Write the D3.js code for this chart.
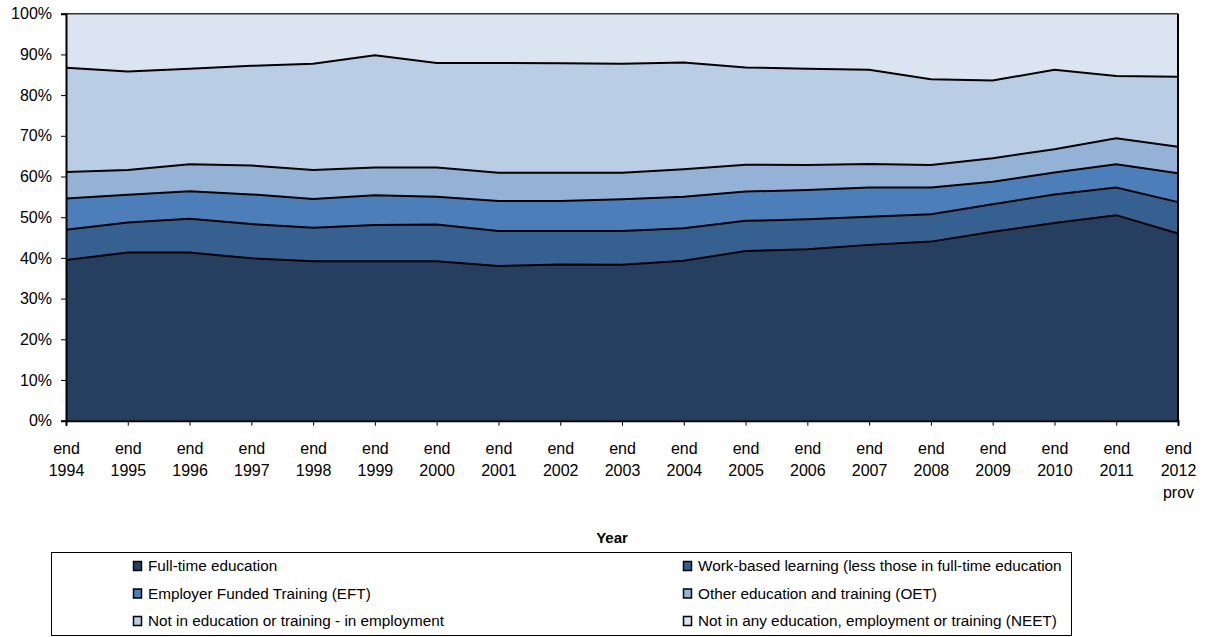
<!DOCTYPE html>
<html><head><meta charset="utf-8">
<script src="https://cdn.jsdelivr.net/npm/d3@7"></script>
<style>body{margin:0;background:#fff;} svg{display:block;font-family:"Liberation Sans",Arial,sans-serif;}</style>
</head><body><svg id="c" width="1206" height="637"></svg>
<script>
const years = ["1994","1995","1996","1997","1998","1999","2000","2001","2002","2003","2004","2005","2006","2007","2008","2009","2010","2011","2012"];
const xLabels = [["end","1994"],["end","1995"],["end","1996"],["end","1997"],["end","1998"],["end","1999"],["end","2000"],["end","2001"],["end","2002"],["end","2003"],["end","2004"],["end","2005"],["end","2006"],["end","2007"],["end","2008"],["end","2009"],["end","2010"],["end","2011"],["end","2012","prov"]];
const seriesNames = ["Full-time education","Work-based learning (less those in full-time education","Employer Funded Training (EFT)","Other education and training (OET)","Not in education or training - in employment","Not in any education, employment or training (NEET)"];
const fte  = [39.5,41.3,41.3,39.9,39.2,39.2,39.2,38.0,38.4,38.3,39.3,41.7,42.1,43.2,44.0,46.4,48.6,50.5,46.0];
const wbl  = [7.4,7.4,8.3,8.4,8.2,8.9,9.0,8.6,8.2,8.3,8.0,7.4,7.4,6.9,6.7,6.8,7.0,6.8,7.7];
const eft  = [7.7,6.8,6.8,7.3,7.1,7.3,6.8,7.4,7.4,7.8,7.7,7.2,7.2,7.2,6.6,5.5,5.4,5.7,7.1];
const oet  = [6.5,6.1,6.6,7.1,7.1,6.8,7.2,6.9,6.9,6.5,6.8,6.6,6.1,5.8,5.5,5.8,5.7,6.4,6.5];
const emp  = [25.6,24.2,23.5,24.5,26.1,27.6,25.7,27.0,26.9,26.8,26.2,23.9,23.7,23.1,21.1,19.1,19.5,15.3,17.2];
const neet = [13.3,14.2,13.5,12.8,12.3,10.2,12.1,12.1,12.2,12.3,12.0,13.2,13.5,13.8,16.1,16.4,13.8,15.3,15.5];
const yTicks = [0,10,20,30,40,50,60,70,80,90,100];
const colors = ["#263f60","#36608f","#4c7fba","#93b2d6","#b9cde5","#dbe5f1"];

const keys = ["fte","wbl","eft","oet","emp","neet"];
const arrs = [fte,wbl,eft,oet,emp,neet];
const table = years.map((y,i)=>{const o={year:y}; keys.forEach((k,j)=>o[k]=arrs[j][i]); return o;});

const svg = d3.select("#c");
const L=66, R=1178, T=13.7, B=420.7;
const x = d3.scalePoint().domain(years).range([L,R]);
const y = d3.scaleLinear().domain([0,100]).range([B,T]);

const stack = d3.stack().keys(keys)(table);
const area = d3.area().x(d=>x(d.data.year)).y0(d=>y(d[0])).y1(d=>y(Math.min(100,d[1])));
const line = d3.line().x(d=>x(d.data.year)).y(d=>y(Math.min(100,d[1])));

svg.append("g").selectAll("path").data(stack).join("path")
  .attr("d",area).attr("fill",(d,i)=>colors[i]);
svg.append("g").selectAll("path").data(stack.slice(0,5)).join("path")
  .attr("d",line).attr("fill","none").attr("stroke","#000").attr("stroke-width",2);

// plot border top/right
svg.append("line").attr("x1",L).attr("x2",R).attr("y1",T).attr("y2",T).attr("stroke","#333").attr("stroke-width",1.5);
svg.append("line").attr("x1",R).attr("x2",R).attr("y1",T).attr("y2",B).attr("stroke","#000").attr("stroke-width",2);

// y axis
const ya = svg.append("g").attr("transform",`translate(${L},0)`)
  .call(d3.axisLeft(y).tickValues(yTicks).tickSize(5).tickPadding(9).tickFormat(d=>d+"%"));
ya.select(".domain").attr("stroke","#000").attr("stroke-width",2);
ya.selectAll(".tick line").attr("stroke","#000");
ya.selectAll("text").attr("font-size",16).attr("fill","#000").attr("font-family","Liberation Sans, Arial, sans-serif");

// x axis
const xa = svg.append("g").attr("transform",`translate(0,${B})`)
  .call(d3.axisBottom(x).tickSize(5).tickFormat(""));
xa.select(".domain").attr("stroke","#000").attr("stroke-width",2);
xa.selectAll(".tick line").attr("stroke","#000");
xa.selectAll(".tick").each(function(d,i){
  const t=d3.select(this).append("text").attr("text-anchor","middle").attr("font-size",16).attr("fill","#000")
    .attr("font-family","Liberation Sans, Arial, sans-serif");
  xLabels[i].forEach((s,k)=>t.append("tspan").attr("x",0).attr("y",33+k*22).text(s));
});

svg.append("text").attr("x",612).attr("y",543).attr("text-anchor","middle").attr("font-weight","bold")
  .attr("font-size",15).text("Year");

// legend
svg.append("rect").attr("x",51.5).attr("y",552.5).attr("width",1020).attr("height",83).attr("fill","#fff").attr("stroke","#000").attr("stroke-width",1);
const lg = svg.append("g");
seriesNames.forEach((n,i)=>{
  const col=i%2, row=Math.floor(i/2);
  const gx = col===0?133:683, gy = 566+row*27.5;
  lg.append("rect").attr("x",gx+0.5).attr("y",gy-4.5).attr("width",8).attr("height",9).attr("fill",colors[i]).attr("stroke","#000").attr("stroke-width",1.5);
  lg.append("text").attr("x",gx+15).attr("y",gy+5).attr("font-size",15.3).attr("fill","#000").text(n);
});
</script></body></html>
